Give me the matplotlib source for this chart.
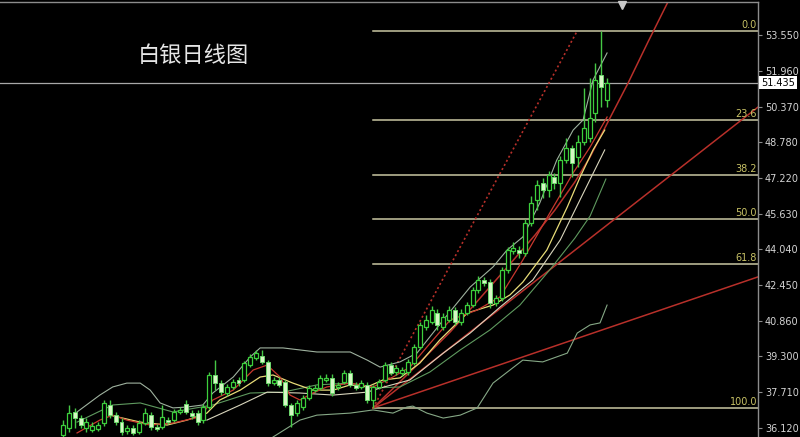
import matplotlib
matplotlib.use("Agg")
import matplotlib.pyplot as plt
import matplotlib.transforms as mtransforms
import numpy as np

# 黑底行情图：白银日线 + 布林带 + 均线 + 斐波那契回撤 + 趋势线

TITLE = "白银日线图"

# 逐根 K 线（从左到右，按图上刻度读出的价格）
opens = [35.81, 36.12, 36.83, 36.56, 36.12, 36.03, 36.07, 36.34, 37.14, 36.69,
         36.38, 35.99, 36.12, 35.94, 36.34, 36.69, 36.16, 36.16, 36.47, 36.47,
         36.83, 37.18, 36.78, 36.78, 36.47, 37.05, 38.47, 38.11, 37.67, 37.94,
         38.25, 38.25, 38.91, 39.22, 39.31, 39.05, 38.11, 38.25, 38.16, 37.14,
         36.78, 37.05, 37.45, 37.80, 37.89, 38.25, 38.34, 37.94, 38.16, 38.56,
         38.03, 37.94, 38.03, 37.36, 37.94, 38.25, 38.91, 38.60, 38.56, 38.60,
         39.00, 39.71, 40.60, 40.82, 41.22, 40.60, 40.91, 41.35, 40.82, 41.22,
         41.57, 42.24, 42.68, 42.59, 41.66, 41.88, 43.13, 43.97, 44.01, 43.88,
         45.21, 46.23, 46.98, 46.67, 47.25, 46.98, 48.00, 48.54, 48.14, 48.80,
         48.98, 50.09, 51.77, 50.67]
highs = [36.47, 37.14, 37.01, 36.69, 36.56, 36.38, 36.38, 37.36, 37.36, 36.83,
         36.56, 36.25, 36.25, 36.47, 37.01, 36.83, 36.30, 37.14, 36.61, 36.97,
         37.05, 37.36, 36.92, 36.92, 37.18, 38.60, 39.13, 38.25, 38.07, 38.30,
         38.38, 39.09, 39.40, 39.58, 39.58, 39.13, 38.38, 38.38, 38.25, 37.23,
         37.36, 37.58, 38.02, 38.02, 38.47, 38.51, 38.51, 38.16, 38.69, 38.69,
         38.16, 38.25, 38.16, 38.03, 38.30, 39.05, 39.05, 38.91, 38.82, 39.18,
         39.84, 40.82, 41.13, 41.53, 41.40, 41.22, 41.53, 41.49, 41.40, 41.71,
         42.37, 42.86, 42.82, 42.73, 42.02, 43.26, 44.15, 44.37, 44.19, 45.39,
         46.41, 47.12, 47.21, 47.52, 47.43, 48.18, 48.98, 48.67, 49.11, 51.20,
         51.64, 52.30, 53.73, 51.64]
lows = [35.72, 35.94, 36.12, 36.12, 35.94, 35.94, 35.99, 36.21, 36.56, 36.25,
        35.81, 35.85, 35.81, 35.85, 36.25, 36.03, 35.99, 36.07, 36.30, 36.38,
        36.74, 36.74, 36.52, 36.25, 36.34, 36.97, 37.80, 37.58, 37.54, 37.85,
        37.98, 38.16, 38.82, 39.13, 38.96, 37.98, 38.02, 37.94, 37.05, 36.16,
        36.65, 36.92, 37.36, 37.71, 37.80, 38.16, 37.54, 37.80, 38.07, 37.94,
        37.80, 37.85, 37.23, 37.01, 37.85, 38.16, 38.47, 38.47, 38.43, 38.47,
        38.91, 39.62, 40.47, 40.73, 40.47, 40.47, 40.82, 40.69, 40.69, 41.13,
        41.49, 42.11, 42.42, 41.44, 41.53, 41.75, 43.00, 43.84, 43.66, 43.75,
        45.08, 45.79, 46.32, 46.36, 46.72, 46.36, 47.87, 47.25, 47.70, 48.67,
        48.80, 49.70, 50.35, 50.35]
closes = [36.25, 36.78, 36.56, 36.25, 36.38, 36.21, 36.25, 37.23, 36.69, 36.38,
          35.94, 36.12, 35.90, 36.34, 36.78, 36.16, 36.07, 36.61, 36.38, 36.83,
          36.92, 36.83, 36.65, 36.38, 37.05, 38.47, 38.11, 37.71, 37.94, 38.16,
          38.11, 39.00, 39.27, 39.44, 39.05, 38.11, 38.25, 38.03, 37.14, 36.69,
          37.23, 37.45, 37.89, 37.89, 38.34, 38.34, 37.67, 38.03, 38.56, 38.03,
          37.89, 38.11, 37.36, 37.94, 38.16, 38.91, 38.56, 38.78, 38.69, 39.05,
          39.71, 40.69, 40.91, 41.35, 40.69, 41.04, 41.35, 40.82, 41.22, 41.57,
          42.24, 42.68, 42.55, 41.66, 41.88, 43.13, 44.01, 44.10, 43.88, 45.21,
          46.10, 46.90, 46.67, 47.34, 46.98, 48.00, 48.54, 47.87, 48.80, 49.42,
          49.87, 51.55, 51.24, 51.435]

# 指标线（K 线序号, 价格），从图上逐点读取
bb_upper_x = [2.4, 6.3, 8.5, 10.9, 13.2, 14.9, 16.6, 18.8, 21.2, 23.9, 25.6, 29.1,
              32.0, 33.7, 37.6, 43.4, 49.1, 52.0, 54.2, 57.6, 60.5, 65.0, 69.6,
              73.5, 75.9, 78.6, 81.5, 84.4, 87.2, 88.9, 90.6, 93.0]
bb_upper_y = [36.83, 37.58, 37.94, 38.11, 38.11, 37.80, 37.23, 37.01, 37.05, 37.14,
              37.67, 38.38, 39.27, 39.67, 39.67, 39.49, 39.49, 39.13, 38.82, 39.05,
              39.44, 40.91, 42.37, 43.26, 44.01, 44.59, 46.10, 48.00, 49.33, 49.78,
              51.55, 52.75]
bb_lower_x = [35.9, 40.5, 43.4, 49.1, 53.0, 56.4, 58.8, 59.8, 62.2, 65.0, 67.9,
              70.8, 73.5, 76.4, 78.6, 82.0, 86.2, 87.9, 90.1, 91.8, 93.0]
bb_lower_y = [35.72, 36.47, 36.69, 36.78, 36.92, 36.78, 37.05, 37.09, 36.78, 36.56,
              36.69, 37.01, 38.11, 38.69, 39.13, 39.05, 39.44, 40.33, 40.69, 40.78,
              41.57]
bb_mid_x = [2.4, 8.5, 13.2, 18.8, 25.6, 32.0, 37.6, 43.4, 49.1, 53.0, 57.6, 62.7,
            67.9, 73.0, 78.1, 83.2, 87.5, 90.1, 92.8]
bb_mid_y = [36.38, 37.14, 37.23, 36.83, 37.14, 37.67, 37.71, 38.03, 38.11, 37.89,
            37.94, 38.60, 39.58, 40.47, 41.57, 43.13, 44.54, 45.52, 47.16]
ma_yellow_x = [8.0, 13.2, 17.8, 21.2, 24.6, 26.8, 30.3, 33.7, 35.9, 39.3, 42.7,
               46.2, 49.1, 52.0, 54.7, 57.6, 61.0, 64.4, 69.1, 73.5, 76.4, 78.6,
               82.7, 86.2, 88.4, 90.6, 92.6]
ma_yellow_y = [36.69, 36.38, 36.25, 36.47, 36.78, 37.36, 37.80, 38.38, 38.47, 38.11,
               37.80, 37.80, 38.03, 37.94, 38.25, 38.34, 39.00, 40.02, 41.22, 41.57,
               42.02, 42.59, 44.01, 45.92, 47.25, 48.45, 49.33]
ma_red_x = [2.4, 6.3, 8.5, 10.9, 14.9, 18.8, 23.4, 25.6, 29.1, 32.5, 34.9, 37.1,
            38.8, 40.5, 42.7, 45.1, 49.1, 53.0, 56.4, 59.3, 62.2, 66.2, 70.8,
            74.7, 78.6, 83.2, 87.2, 90.1, 93.0]
ma_red_y = [35.90, 36.47, 36.69, 36.47, 36.25, 36.34, 36.61, 37.36, 37.80, 38.69,
            38.91, 38.38, 37.58, 37.36, 37.67, 37.94, 38.11, 37.94, 38.38, 38.82,
            39.71, 40.91, 41.35, 41.93, 43.57, 45.65, 47.43, 48.58, 49.91]
ma_white_x = [24.6, 30.3, 34.9, 40.5, 46.2, 52.0, 54.2, 59.3, 65.0, 69.6, 74.7,
              80.3, 85.0, 89.2, 92.6]
ma_white_y = [36.47, 37.14, 37.71, 37.67, 37.58, 37.71, 37.89, 38.25, 39.44, 40.33,
              41.48, 42.68, 44.46, 46.67, 48.45]

# 斐波那契回撤（起点在第 53 根的低点）
fib_labels = ["0.0", "23.6", "38.2", "50.0", "61.8", "100.0"]
fib_prices = [53.73, 49.78, 47.34, 45.37, 43.40, 37.01]
fib_start = 53

# 趋势线：同一起点出发
trend_x0, trend_y0 = 53, 37.01
dotted_end = (87.9, 53.73)
line_ends = [(118.8, 50.35), (118.8, 42.82)]
curve_x = [53.0, 59.3, 66.2, 71.3, 76.4, 80.7, 84.1, 87.5, 90.1, 93.5, 96.6, 100.0, 103.4]
curve_y = [37.01, 38.60, 40.38, 41.88, 43.39, 44.68, 45.79, 47.03, 48.14, 49.87,
           51.42, 53.24, 55.01]

price_ticks = [36.12, 37.71, 39.30, 40.86, 42.45, 44.04, 45.63, 47.22, 48.78,
               50.37, 51.96, 53.55]
last_price = 51.435
shift_mark = 95.6

XMIN, XMAX = -10.77, 118.8
YMIN, YMAX = 35.72, 55.01

BULL = "#3ccf3c"
BEAR_FILL = "#d6f7c4"
RED = "#b8302a"

fig = plt.figure(figsize=(8, 4.37), dpi=100, facecolor="black")
plt.rcParams["font.family"] = ["Noto Sans CJK SC", "DejaVu Sans"]
ax = fig.add_axes([0, 0, 758 / 800, 435 / 437], facecolor="black")
ax.set_xlim(XMIN, XMAX)
ax.set_ylim(YMIN, YMAX)

# 斐波那契水平线
for lbl, p in zip(fib_labels, fib_prices):
    ax.plot([fib_start, XMAX], [p, p], color="#c9c7a2", lw=1.1, zorder=1)
    ax.text(XMAX - 0.15, p + 0.05, lbl, ha="right", va="bottom",
            color="#c8c266", fontsize=7, family="DejaVu Sans", zorder=5)

# 当前价横线
ax.axhline(last_price, color="#a8a8a8", lw=0.9, zorder=1)

# 趋势线
ax.plot([trend_x0, dotted_end[0]], [trend_y0, dotted_end[1]], color=RED,
        lw=1.2, ls=(0, (1.2, 1.6)), zorder=2)
for ex, ey in line_ends:
    ax.plot([trend_x0, ex], [trend_y0, ey], color=RED, lw=1.1, zorder=2)
ax.plot(curve_x, curve_y, color=RED, lw=1.1, zorder=2)

# 布林带与均线
ax.plot(bb_upper_x, bb_upper_y, color="#9fb29f", lw=0.8, zorder=2)
ax.plot(bb_lower_x, bb_lower_y, color="#86a886", lw=0.8, zorder=2)
ax.plot(bb_mid_x, bb_mid_y, color="#5f9a5f", lw=0.8, zorder=2)
ax.plot(ma_white_x, ma_white_y, color="#d9d6bd", lw=0.8, zorder=2)
ax.plot(ma_yellow_x, ma_yellow_y, color="#e8dc78", lw=0.9, zorder=2)
ax.plot(ma_red_x, ma_red_y, color="#c8382e", lw=0.9, zorder=2)

# K 线
x = np.arange(len(closes))
o = np.array(opens)
c = np.array(closes)
up = c >= o
ax.vlines(x, lows, highs, color="#45c845", lw=1, zorder=3)
body_lo = np.minimum(o, c)
body_h = np.maximum(np.abs(c - o), 0.04)
ax.bar(x[up], body_h[up], bottom=body_lo[up], width=0.68, color="black",
       edgecolor=BULL, linewidth=0.9, zorder=4)
ax.bar(x[~up], body_h[~up], bottom=body_lo[~up], width=0.68, color=BEAR_FILL,
       edgecolor="#6fd86f", linewidth=0.7, zorder=4)

# 坐标轴
for side in ("left", "bottom"):
    ax.spines[side].set_visible(False)
for side in ("top", "right"):
    ax.spines[side].set_color("#8c8c8c")
    ax.spines[side].set_linewidth(1)
ax.set_xticks([])
ax.yaxis.tick_right()
ax.set_yticks(price_ticks)
ax.set_yticklabels([f"{v:.3f}" for v in price_ticks], family="DejaVu Sans")
ax.tick_params(axis="y", colors="#8c8c8c", labelcolor="#d4d4d4", labelsize=7,
               length=3, pad=2, direction="out")

trans = mtransforms.blended_transform_factory(ax.transAxes, ax.transData)
ax.text(1.004, last_price, f"{last_price:.3f}", transform=trans, ha="left",
        va="center", fontsize=7, color="black", family="DejaVu Sans",
        bbox=dict(boxstyle="square,pad=0.18", fc="white", ec="none"), clip_on=False)

trans2 = mtransforms.blended_transform_factory(ax.transData, ax.transAxes)
ax.plot([shift_mark], [0.992], marker="v", ms=6, color="#c8c8c8", transform=trans2,
        clip_on=False, zorder=6)

fig.text(193 / 800, 1 - 56 / 437, TITLE, ha="center", va="center", fontsize=16,
         color="#e6e6e6")

fig.savefig("out.png", dpi=100, facecolor="black")
